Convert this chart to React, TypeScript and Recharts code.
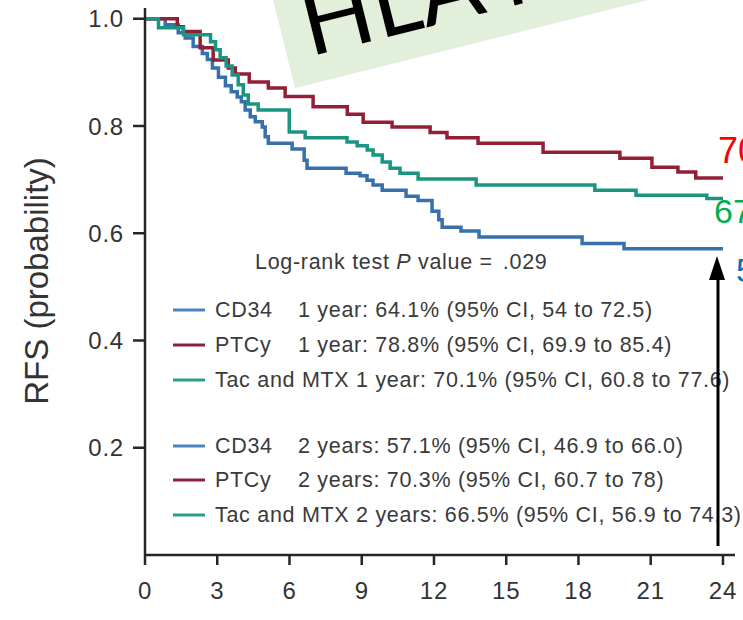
import { LineChart, Line, XAxis, YAxis } from "recharts";

// Kaplan-Meier step points: months after transplant, relapse-free survival
const cd34Months = [0, 0.84, 1.38, 1.67, 2.0, 2.38, 2.59, 2.8, 3.05, 3.34, 3.58, 3.83, 4.0, 4.16, 4.37, 4.58, 4.87, 4.99, 5.12, 6.11, 6.61, 6.73, 8.35, 8.93, 9.22, 9.47, 9.85, 10.84, 11.34, 11.92, 12.2, 12.34, 13.12, 13.87, 18.15, 19.89, 24];
const cd34Rfs = [1, 0.989, 0.974, 0.964, 0.948, 0.935, 0.924, 0.908, 0.891, 0.875, 0.864, 0.854, 0.845, 0.83, 0.817, 0.808, 0.798, 0.78, 0.768, 0.757, 0.736, 0.721, 0.712, 0.707, 0.699, 0.69, 0.68, 0.669, 0.661, 0.641, 0.625, 0.611, 0.604, 0.593, 0.581, 0.571, 0.571];

const ptcyMonths = [0, 1.34, 1.59, 2.29, 2.83, 3.46, 3.75, 4.33, 5.12, 5.82, 6.98, 8.4, 9.06, 10.26, 11.84, 12.54, 13.83, 16.53, 19.72, 21.05, 22.13, 22.87, 24];
const ptcyRfs = [1, 0.985, 0.976, 0.946, 0.923, 0.908, 0.897, 0.882, 0.871, 0.855, 0.836, 0.822, 0.807, 0.798, 0.788, 0.778, 0.768, 0.751, 0.74, 0.723, 0.714, 0.703, 0.703];

const tacMonths = [0, 0.56, 1.6, 2.72, 2.93, 3.12, 3.37, 3.62, 3.87, 4.08, 4.29, 4.7, 5.99, 6.65, 8.39, 8.81, 9.23, 9.47, 9.85, 10.18, 10.59, 11.34, 13.75, 18.68, 20.39, 23.33, 24];
const tacRfs = [1, 0.983, 0.97, 0.957, 0.942, 0.927, 0.912, 0.895, 0.877, 0.858, 0.841, 0.83, 0.789, 0.778, 0.77, 0.763, 0.755, 0.746, 0.733, 0.721, 0.712, 0.701, 0.69, 0.68, 0.671, 0.665, 0.665];

const xTicks = [0, 3, 6, 9, 12, 15, 18, 21, 24];
const yTicks = [0.2, 0.4, 0.6, 0.8, 1.0];

const armNames = ["CD34", "PTCy", "Tac and MTX"];
const armColors = ["#3671ad", "#931f35", "#1a9582"];
const swatchColors = ["#4a84bf", "#8a2040", "#2a9c8e"];
const oneYearText = [
  "1 year: 64.1% (95% CI, 54 to 72.5)",
  "1 year: 78.8% (95% CI, 69.9 to 85.4)",
  "1 year: 70.1% (95% CI, 60.8 to 77.6)",
];
const twoYearText = [
  "2 years: 57.1% (95% CI, 46.9 to 66.0)",
  "2 years: 70.3% (95% CI, 60.7 to 78)",
  "2 years: 66.5% (95% CI, 56.9 to 74.3)",
];
const endLabels = ["70%", "67%", "57%"];
const endColors = ["#ff0000", "#00b050", "#0070c0"];

const zip = (months: number[], rfs: number[]) => months.map((t, i) => ({ t, s: rfs[i] }));
const series = [zip(cd34Months, cd34Rfs), zip(ptcyMonths, ptcyRfs), zip(tacMonths, tacRfs)];

const FONT = '"Liberation Sans", Arial, sans-serif';
const TEXT = "#3a3a3a";
const AXIS = "#262626";

function LegendRow({ y, idx, rest }: { y: number; idx: number; rest: string }) {
  const single = idx === 2;
  return (
    <g>
      <line x1={173} x2={205} y1={y} y2={y} stroke={swatchColors[idx]} strokeWidth={3} />
      {single ? (
        <text x={215} y={y} dominantBaseline="central">
          {armNames[idx]} {rest}
        </text>
      ) : (
        <>
          <text x={215} y={y} dominantBaseline="central">{armNames[idx]}</text>
          <text x={298} y={y} dominantBaseline="central">{rest}</text>
        </>
      )}
    </g>
  );
}

export default function App() {
  const tickStyle = { fontSize: 24, fill: "#333", fontFamily: FONT, letterSpacing: 0.8 };
  return (
    <div style={{ position: "absolute", left: 0, top: 0, width: 743, height: 620, background: "#fff" }}>
      <LineChart width={743} height={620} margin={{ top: 8, right: 8, bottom: 25, left: 85 }}>
        <XAxis
          type="number"
          dataKey="t"
          domain={[0, 24.5]}
          ticks={xTicks}
          interval={0}
          height={40}
          tickSize={10}
          tickMargin={17}
          axisLine={{ stroke: AXIS, strokeWidth: 2.5 }}
          tickLine={{ stroke: AXIS, strokeWidth: 2.5 }}
          tick={tickStyle}
          allowDuplicatedCategory={false}
        />
        <YAxis
          type="number"
          domain={[0, 1.02]}
          ticks={yTicks}
          interval={0}
          width={60}
          tickSize={12}
          tickMargin={9}
          tickFormatter={(v: number) => v.toFixed(1)}
          axisLine={{ stroke: AXIS, strokeWidth: 2.5 }}
          tickLine={{ stroke: AXIS, strokeWidth: 2.5 }}
          tick={tickStyle}
        />
        {series.map((d, i) => (
          <Line
            key={armNames[i]}
            data={d}
            dataKey="s"
            type="stepAfter"
            stroke={armColors[i]}
            strokeWidth={3.5}
            dot={false}
            activeDot={false}
            isAnimationActive={false}
          />
        ))}
      </LineChart>

      <svg
        width={743}
        height={620}
        style={{ position: "absolute", left: 0, top: 0, pointerEvents: "none" }}
        fontFamily={FONT}
      >
        {/* axis title */}
        <text
          x={36}
          y={281}
          transform="rotate(-90 36 281)"
          textAnchor="middle"
          dominantBaseline="central"
          fontSize={33}
          fill="#333"
        >
          RFS (probability)
        </text>

        {/* estimates block */}
        <g fontSize={21.5} fill={TEXT} letterSpacing={0.7}>
          <text x={255} y={262} dominantBaseline="central">
            Log-rank test <tspan fontStyle="italic">P</tspan> value =<tspan dx={10}>.029</tspan>
          </text>
          {[310, 345, 380].map((y, i) => (
            <LegendRow key={"a" + i} y={y} idx={i} rest={oneYearText[i]} />
          ))}
          {[446, 480, 515].map((y, i) => (
            <LegendRow key={"b" + i} y={y} idx={i} rest={twoYearText[i]} />
          ))}
        </g>

        {/* end-of-curve callouts */}
        <text x={718} y={163} fontSize={36} fill={endColors[0]}>{endLabels[0]}</text>
        <text x={714} y={223} fontSize={34} fill={endColors[1]}>{endLabels[1]}</text>
        <text x={736} y={282} fontSize={34} fill={endColors[2]}>{endLabels[2]}</text>

        {/* arrow pointing at the CD34 curve end */}
        <line x1={718} x2={718} y1={546} y2={276} stroke="#000" strokeWidth={3} />
        <polygon points="717,256 709,280 725,280" fill="#000" />

        {/* slide banner */}
        <g transform="rotate(-14 295 88)">
          <rect x={295} y={-212} width={700} height={300} fill="#e2efda" />
          <text x={317} y={61} fontSize={94} fill="#000" fontFamily="Lato, sans-serif">
            HLA matched
          </text>
        </g>
      </svg>
    </div>
  );
}
